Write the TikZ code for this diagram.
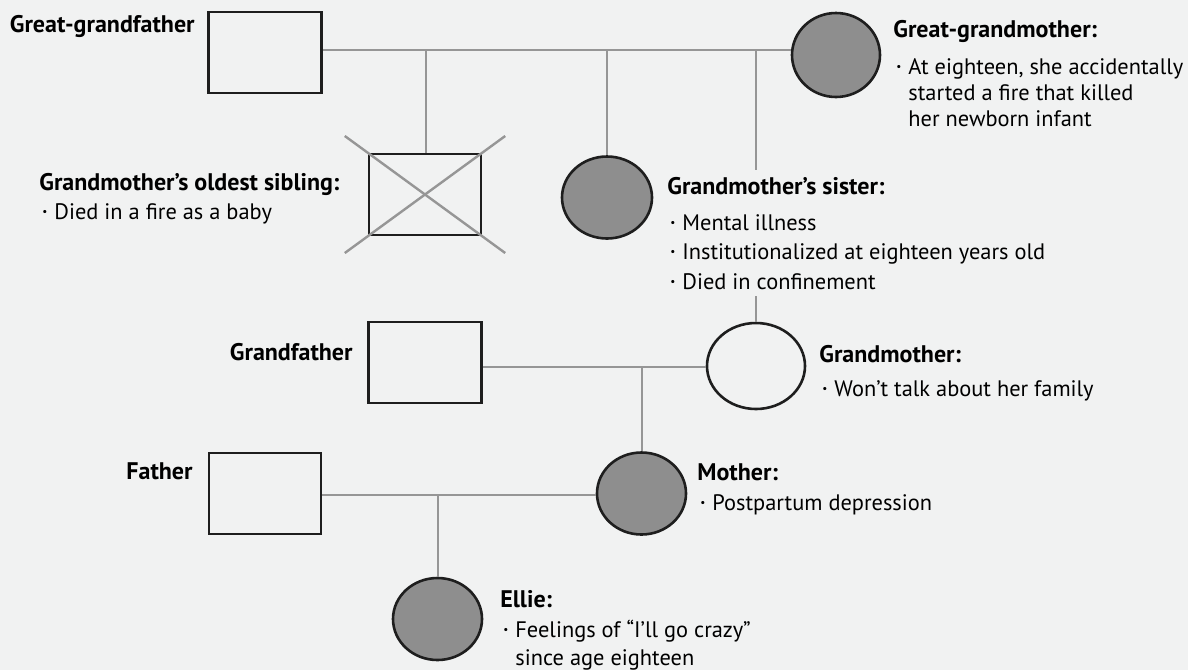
\documentclass[tikz,border=0pt]{standalone}
\usepackage{fontspec}
\setmainfont{PT Sans}
\usepackage{graphicx}
\usetikzlibrary{shapes.geometric,calc}
\definecolor{bg}{HTML}{F1F2F2}
\definecolor{ink}{HTML}{1E1E1E}
\definecolor{kin}{HTML}{969696}
\definecolor{ill}{HTML}{8E8E8E}
\newcommand{\ttl}[1]{{\fontsize{12}{13}\selectfont\bfseries #1}}
\newcommand{\itm}{\makebox[7.5pt][l]{\hspace{1.5pt}\raisebox{0.35ex}{\scalebox{0.5}{\textbullet}}}}
\newcommand{\cont}{\hspace*{7.5pt}}

\begin{document}
\begin{tikzpicture}[x=0.5pt,y=-0.5pt,
	font=\fontsize{11.2}{13}\selectfont,
	man/.style={draw=ink,line width=1.3pt,fill=bg,inner sep=0pt,minimum width=56.5pt,minimum height=40.5pt},
	woman/.style={ellipse,draw=ink,line width=1.3pt,fill=bg,inner sep=0pt,minimum width=44.5pt,minimum height=41pt},
	hit/.style={fill=ill},
	kinline/.style={draw=kin,line width=1.2pt},
	who/.style={font=\fontsize{12}{13}\selectfont\bfseries,inner sep=0pt,anchor=base east},
	note/.style={align=left,inner sep=0pt,anchor=base west}]
	\fill [bg] (0,0) rectangle (1188,670);
	\useasboundingbox (0,0) rectangle (1188,670);
	\node [man] (ggf) at (265,52.5) {};
	\node [woman,hit,minimum width=44pt,minimum height=42pt] (ggm) at (836,55) {};
	\node [man,minimum width=56pt] (sib) at (425,194.5) {};
	\node [woman,hit,minimum width=45pt] (sis) at (607,197.5) {};
	\node [man] (gf) at (425,362.5) {};
	\node [woman,minimum width=49pt,minimum height=43pt] (gm) at (756,366) {};
	\node [man,minimum width=56pt] (fa) at (265,493.5) {};
	\node [woman,hit] (mo) at (641.5,493.5) {};
	\node [woman,hit,minimum height=41pt] (ellie) at (437.5,619) {};
	\coordinate (m1) at (426,50);
	\coordinate (m2) at (607,50);
	\coordinate (m3) at (756,50);
	\coordinate (m4) at (642,367);
	\coordinate (m5) at (438,495);
	\draw [kinline] (ggf.east |- m1) -- (ggm.west |- m1);
	\draw [kinline] (m1) -- (m1 |- sib.north);
	\draw [kinline] (m2) -- (m2 |- sis.north);
	\draw [kinline] (m3) -- (m3 |- gm.north);
	\draw [kinline] ($(sib.north west)!1.2!(sib.south east)$) -- ($(sib.south east)!1.2!(sib.north west)$);
	\draw [kinline] ($(sib.north east)!1.2!(sib.south west)$) -- ($(sib.south west)!1.2!(sib.north east)$);
	\draw [kinline] (gf.east |- m4) -- (gm.west |- m4);
	\draw [kinline] (m4) -- (m4 |- mo.north);
	\draw [kinline] (fa.east |- m5) -- (mo.west |- m5);
	\draw [kinline] (m5) -- (m5 |- ellie.north);
	\node [who] (ggfT) at (195,32) {Great-grandfather};
	\node [who] (gfT) at (353,360) {Grandfather};
	\node [who] (faT) at (193,479) {Father};
	\node [note] (ggmN) at (893,126) {\ttl{Great-grandmother:}\\[5.5pt]
		\itm At eighteen, she accidentally\\ \cont started a fire that killed\\ \cont her newborn infant};
	\node [note] (sibN) at (39,219) {\ttl{Grandmother’s oldest sibling:}\\[1.5pt]
		\itm Died in a fire as a baby};
	\node [note,fill=bg,inner xsep=2pt,inner ysep=3.5pt] (sisN) at (663,289) {\ttl{Grandmother’s sister:}\\[5pt]
		\itm Mental illness\\[1.75pt] \itm Institutionalized at eighteen years old\\[1.75pt] \itm Died in confinement};
	\node [note] (gmN) at (819,396) {\ttl{Grandmother:}\\[4pt]
		\itm Won’t talk about her family};
	\node [note] (moN) at (697,510) {\ttl{Mother:}\\[2pt]
		\itm Postpartum depression};
	\node [note] (ellieN) at (500,665) {\ttl{Ellie:}\\[2pt]
		\itm Feelings of “I’ll go crazy”\\[1pt] \cont since age eighteen};
\end{tikzpicture}
\end{document}
